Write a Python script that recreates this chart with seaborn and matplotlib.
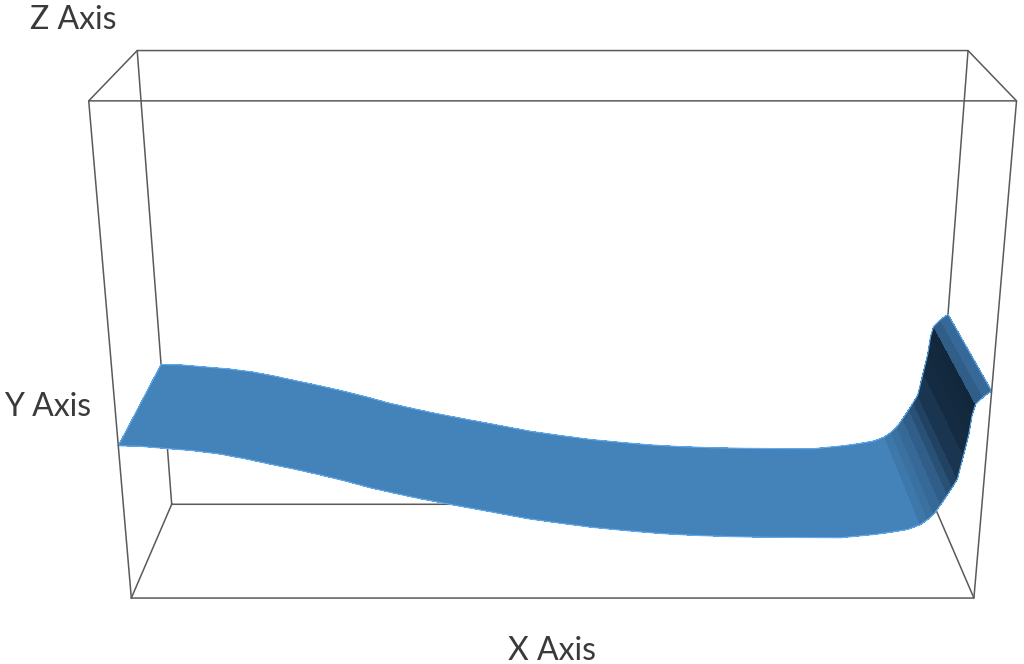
#!/usr/bin/env python3
"""
3D ribbon surface inside a wireframe box.
"""

import matplotlib
matplotlib.use("Agg")
import matplotlib.pyplot as plt
import numpy as np
import seaborn as sns

# profile of the ribbon along the X axis
x_profile = [0.0, 0.025, 0.051, 0.085, 0.116, 0.145, 0.173, 0.202, 0.231, 0.26, 0.288,
             0.317, 0.346, 0.368, 0.389, 0.43, 0.471, 0.51, 0.548, 0.588, 0.627, 0.666,
             0.705, 0.748, 0.791, 0.838, 0.877, 0.897, 0.916, 0.93, 0.938, 0.945, 0.952,
             0.959, 0.964, 0.969, 0.974, 0.978, 0.98, 0.983, 0.991, 1.0]
z_profile = [0.327, 0.326, 0.322, 0.317, 0.31, 0.3, 0.289, 0.278, 0.266, 0.253, 0.239,
             0.227, 0.2156, 0.208, 0.2007, 0.187, 0.173, 0.163, 0.154, 0.147, 0.141, 0.137,
             0.1346, 0.133, 0.1324, 0.132, 0.139, 0.144, 0.15, 0.16, 0.171, 0.183, 0.203,
             0.224, 0.24, 0.257, 0.308, 0.35, 0.39, 0.413, 0.428, 0.44]
y_profile = [0.0, 1.0]
# brightness of each strip between two profile points (0 dark, 1 base blue)
strip_shade = [1] * 29 + [0.88, 0.8, 0.72, 0.6, 0.45, 0.3, 0.15, 0.05, 0.02, 0.0, 0.6, 0.72]

labels = ["X Axis", "Y Axis", "Z Axis"]

sns.set_theme(style="white")
plt.rcParams["font.family"] = ["Lato", "DejaVu Sans"]

fig = plt.figure(figsize=(10.24, 6.64), dpi=100)
ax = fig.add_axes([54 / 1024, -157 / 664, 971 / 1024, 971 / 664],
                  projection="3d", computed_zorder=False)
ax.view_init(elev=20.2, azim=-90)
ax.set_proj_type("persp", focal_length=0.364)
ax.set_box_aspect((1, 0.256, 0.603))
ax.set_xlim(0, 1, view_margin=0)
ax.set_ylim(0, 1, view_margin=0)
ax.set_zlim(0, 1, view_margin=0)
ax.set_axis_off()
ax.patch.set_alpha(0)

# wireframe box, back edges go behind the ribbon
box_color = "#5a5a5a"
for y in [1, 0]:
    z_order = 1 if y == 1 else 3
    ax.plot([0, 1, 1, 0, 0], [y] * 5, [0, 0, 1, 1, 0], color=box_color, lw=1.1, zorder=z_order)
for x in [0, 1]:
    ax.plot([x, x], [0, 1], [0, 0], color=box_color, lw=1.1, zorder=1)
    ax.plot([x, x], [0, 1], [1, 1], color=box_color, lw=1.1, zorder=3)

# ribbon surface
cmap = sns.blend_palette(["#12273c", "#4483ba"], as_cmap=True)
X, Y = np.meshgrid(x_profile, y_profile)
Z = np.array([z_profile, z_profile])
colors = cmap(np.array([strip_shade]))
ax.plot_surface(X, Y, Z, facecolors=colors, rstride=1, cstride=1, shade=False,
                linewidth=0, antialiased=False, zorder=2)

# light blue rim
rim = "#62acef"
for y in y_profile:
    ax.plot(x_profile, [y] * len(x_profile), z_profile, color=rim, lw=0.8, zorder=2.5)
ax.plot([0, 0], y_profile, [z_profile[0]] * 2, color=rim, lw=0.8, zorder=2.5)
ax.plot([1, 1], y_profile, [z_profile[-1]] * 2, color=rim, lw=0.8, zorder=2.5)

# axis titles
label_style = dict(fontsize=23, color="#3a3a3a", va="center")
fig.text(508 / 1024, 1 - 651 / 664, labels[0], **label_style)
fig.text(4 / 1024, 1 - 407 / 664, labels[1], **label_style)
fig.text(30 / 1024, 1 - 20 / 664, labels[2], **label_style)

fig.savefig("out.png", dpi=100)
